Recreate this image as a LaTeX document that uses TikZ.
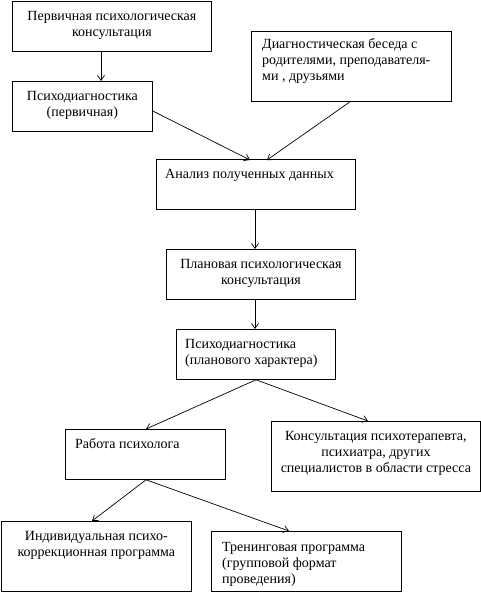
\documentclass[tikz,border=0pt]{standalone}
\usepackage{fontspec}
\setmainfont{Liberation Serif}
\usetikzlibrary{arrows.meta,calc}
\tikzset{
  box/.style={draw, line width=0.8pt, fill=white, inner sep=0pt, anchor=north west},
  txt/.style={inner sep=0pt, font=\fontsize{14}{16}\selectfont},
  conn/.style={line width=0.7pt, -{Straight Barb[length=5pt,width=7pt]}}
}
\newcommand{\bx}[5]{\node[box, minimum width=#3pt, minimum height=#4pt] (#5) at (#1pt,-#2pt) {};}
\begin{document}
\begin{tikzpicture}[x=1pt,y=1pt]
\useasboundingbox (0,0) rectangle (481,-592);
% boxes: left, top, width, height
\bx{12}{1}{199}{50}{a}
\bx{12}{81}{140}{50}{b}
\bx{251}{31}{200}{70}{c}
\bx{156}{159}{199}{50}{d}
\bx{166}{249}{189}{50}{e}
\bx{176}{329}{159}{50}{f}
\bx{65}{429}{160}{50}{g}
\bx{271}{421}{209}{70}{h}
\bx{1}{521}{190}{70}{i}
\bx{211}{531}{190}{60}{j}
% texts
\node[txt, anchor=north, align=center] at ($(a.north)+(0,-7.8)$) {\strut Первичная психологическая\\\strut консультация};
\node[txt, anchor=north, align=center] at ($(b.north)+(0,-7.8)$) {\strut Психодиагностика\\\strut (первичная)};
\node[txt, anchor=north west, align=left] at ($(c.north west)+(11,-5.8)$) {\strut Диагностическая беседа с\\\strut родителями, преподавателя-\\\strut ми , друзьями};
\node[txt, anchor=north west, align=left] at ($(d.north west)+(9,-7.8)$) {\strut Анализ полученных данных};
\node[txt, anchor=north, align=center] at ($(e.north)+(0,-7.8)$) {\strut Плановая психологическая\\\strut консультация};
\node[txt, anchor=north west, align=left] at ($(f.north west)+(9,-7.8)$) {\strut Психодиагностика\\\strut (планового характера)};
\node[txt, anchor=north west, align=left] at ($(g.north west)+(10,-7.8)$) {\strut Работа психолога};
\node[txt, anchor=north, align=center] at ($(h.north)+(0,-7.8)$) {\strut Консультация психотерапевта,\\\strut психиатра, других\\\strut специалистов в области стресса};
\node[txt, anchor=north, align=center] at ($(i.north)+(0,-7.8)$) {\strut Индивидуальная психо-\\\strut коррекционная программа};
\node[txt, anchor=north west, align=left] at ($(j.north west)+(11,-8.8)$) {\strut Тренинговая программа\\\strut (групповой формат\\\strut проведения)};
% connectors
\draw[conn] (a.south -| 101,0) -- (b.north -| 101,0);
\draw[conn] (b.east |- 0,-111) -- ($(d.north west)+(94,-1)$);
\draw[conn] ($(c.south west)+(99,0)$) -- ($(d.north west)+(111,-1)$);
\draw[conn] (d.south -| 255,0) -- (e.north -| 255,0);
\draw[conn] (e.south -| 255,0) -- (f.north -| 255,0);
\draw[conn] (f.south -| 256,0) -- ($(g.north west)+(81,0)$);
\draw[conn] (f.south -| 256,0) -- ($(h.north west)+(97,0)$);
\draw[conn] (g.south -| 146,0) -- ($(i.north west)+(91,0)$);
\draw[conn] (g.south -| 146,0) -- ($(j.north west)+(78,0)$);
\end{tikzpicture}
\end{document}
